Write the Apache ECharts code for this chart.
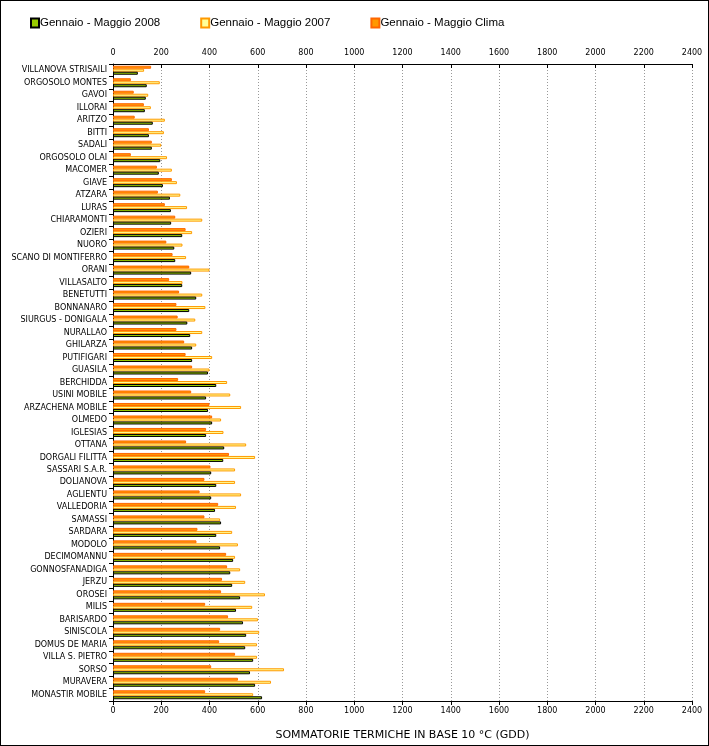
<!DOCTYPE html>
<html>
<head>
<meta charset="utf-8">
<script src="https://cdn.jsdelivr.net/npm/echarts@6/dist/echarts.min.js"></script>
<style>
html,body{margin:0;padding:0;background:#fff;}
#frame{position:absolute;left:0;top:0;width:707px;height:744px;border:1px solid #000;}
#chart{position:absolute;left:0;top:0;width:709px;height:746px;}
</style>
</head>
<body>
<div id="frame"></div>
<div id="chart"></div>
<script>
const categories = ["VILLANOVA STRISAILI","ORGOSOLO MONTES","GAVOI","ILLORAI","ARITZO","BITTI","SADALI","ORGOSOLO OLAI","MACOMER","GIAVE","ATZARA","LURAS","CHIARAMONTI","OZIERI","NUORO","SCANO DI MONTIFERRO","ORANI","VILLASALTO","BENETUTTI","BONNANARO","SIURGUS - DONIGALA","NURALLAO","GHILARZA","PUTIFIGARI","GUASILA","BERCHIDDA","USINI MOBILE","ARZACHENA MOBILE","OLMEDO","IGLESIAS","OTTANA","DORGALI FILITTA","SASSARI S.A.R.","DOLIANOVA","AGLIENTU","VALLEDORIA","SAMASSI","SARDARA","MODOLO","DECIMOMANNU","GONNOSFANADIGA","JERZU","OROSEI","MILIS","BARISARDO","SINISCOLA","DOMUS DE MARIA","VILLA S. PIETRO","SORSO","MURAVERA","MONASTIR MOBILE"];
const clima = [158,74,86,128,90,149,161,74,182,244,186,215,258,301,221,247,316,233,274,263,268,263,295,301,328,270,324,400,411,386,303,481,404,379,359,436,379,350,346,469,473,452,448,382,477,444,440,506,407,518,382];
const values2007 = [129,194,146,157,215,211,200,224,244,265,279,307,370,328,288,303,400,288,370,383,341,370,345,411,400,473,486,531,448,458,552,589,506,506,531,510,444,494,518,506,527,548,630,577,601,606,597,597,709,655,581];
const values2008 = [103,140,136,132,165,149,161,196,190,207,236,240,241,287,254,258,324,287,345,316,308,320,328,328,394,428,386,394,411,386,461,457,407,428,407,423,448,428,444,498,486,494,527,510,539,552,548,581,568,589,618];
const seriesNames = ["Gennaio - Maggio 2008","Gennaio - Maggio 2007","Gennaio - Maggio Clima"];
const axisTitle = "SOMMATORIE TERMICHE IN BASE 10 °C (GDD)";

const chart = echarts.init(document.getElementById('chart'), null, {renderer:'canvas'});
const font = 'DejaVu Sans';
const plain = v => String(v);
const xCommon = {
  type:'value', min:0, max:2400, interval:200,
  axisLine:{show:true, lineStyle:{color:'#000', width:1}},
  splitLine:{show:false}
};
chart.setOption({
  animation:false,
  legend:{
    data:seriesNames, left:30, top:17, padding:0, itemWidth:8, itemHeight:9, itemGap:40,
    icon:'rect',
    textStyle:{fontFamily:'Liberation Sans', fontSize:11.5, color:'#000', padding:[0,0,0,-4]}
  },
  grid:{left:113, right:17, top:64, bottom:44, containLabel:false},
  xAxis:[
    Object.assign({}, xCommon, {position:'bottom',
      axisTick:{show:true, length:4, lineStyle:{color:'#000'}},
      axisLabel:{fontFamily:font, fontSize:8, color:'#000', margin:6, formatter:plain},
      splitLine:{show:true, lineStyle:{color:'#999', type:[1,2], width:1}},
      name:axisTitle, nameLocation:'middle', nameGap:29,
      nameTextStyle:{fontFamily:font, fontSize:11, color:'#000'}
    }),
    Object.assign({}, xCommon, {position:'top',
      axisTick:{show:true, inside:true, length:4, lineStyle:{color:'#000'}},
      axisLabel:{fontFamily:font, fontSize:8, color:'#000', margin:7, formatter:plain}
    })
  ],
  yAxis:{
    type:'category', data:categories, inverse:true,
    axisLine:{show:true, lineStyle:{color:'#000'}},
    axisTick:{show:true, length:4, interval:0, lineStyle:{color:'#000'}},
    axisLabel:{interval:0, fontFamily:font, fontSize:8, color:'#000', margin:6}
  },
  series:[
    {name:seriesNames[2], type:'bar', data:clima, barWidth:3, barGap:'0%',
      itemStyle:{color:'#FF9900', borderColor:'#FF6600', borderWidth:1}},
    {name:seriesNames[1], type:'bar', data:values2007, barWidth:3, barGap:'0%',
      itemStyle:{color:'#FFFF99', borderColor:'#FF9900', borderWidth:1}},
    {name:seriesNames[0], type:'bar', data:values2008, barWidth:3, barGap:'0%',
      itemStyle:{color:'#99CC00', borderColor:'#000', borderWidth:1}}
  ]
});
</script>
</body>
</html>
